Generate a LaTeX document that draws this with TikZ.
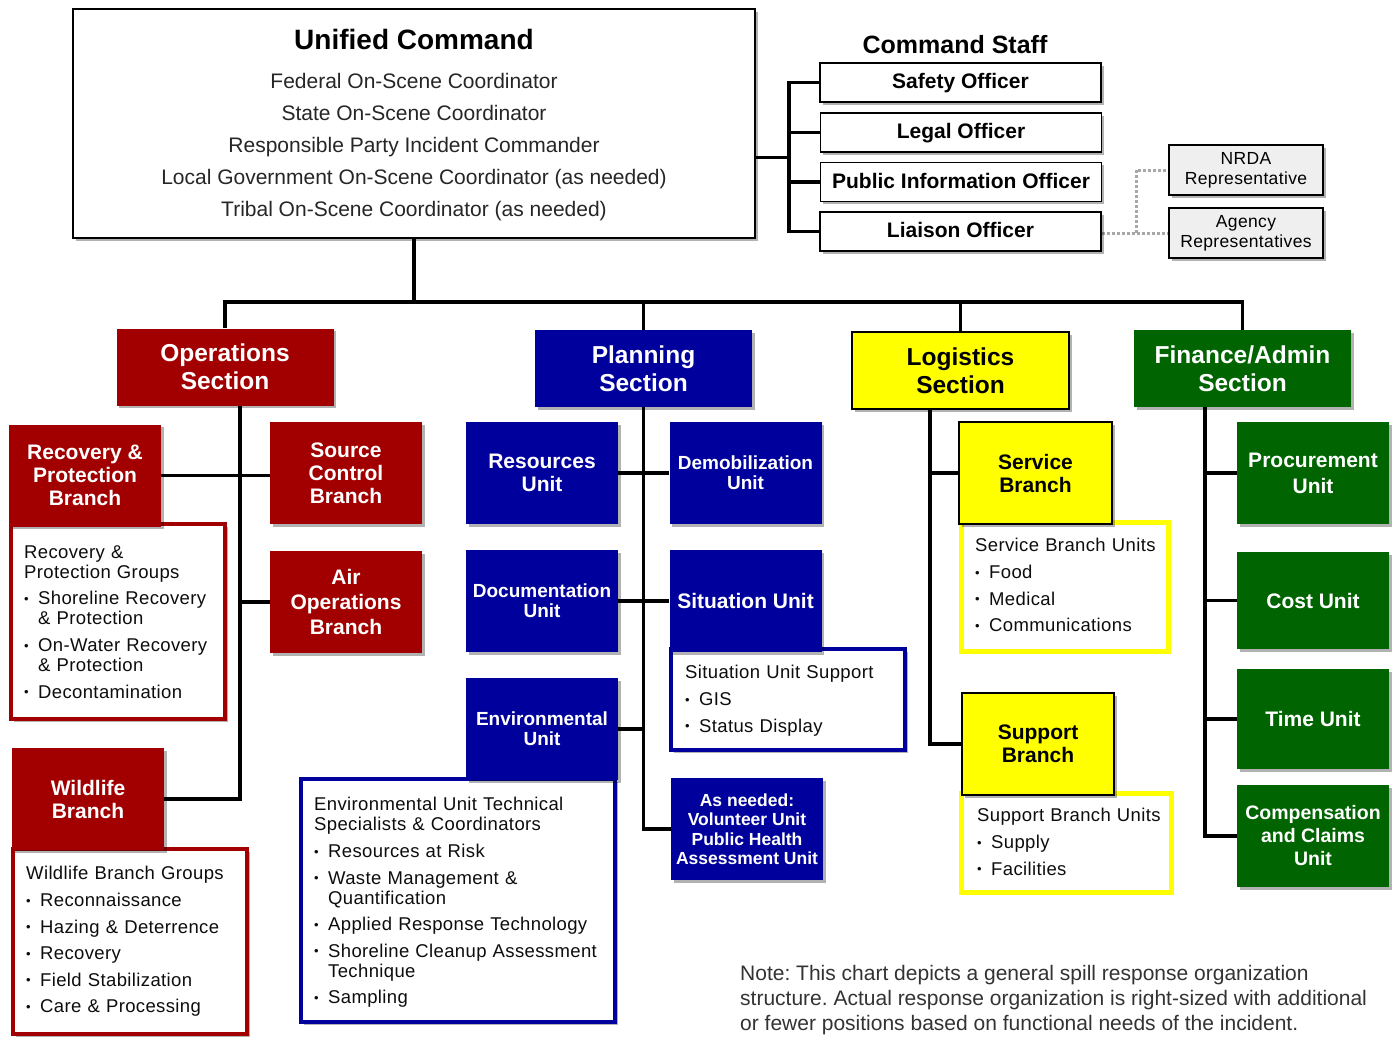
\documentclass[tikz,border=0pt]{standalone}
\usepackage{fontspec}
\setmainfont{Liberation Sans}
\newfontfamily\listfont[LetterSpace=2]{Liberation Sans}
\usetikzlibrary{shadows,backgrounds}
\definecolor{opsred}{HTML}{A20000}
\definecolor{planblue}{HTML}{00009C}
\definecolor{logyel}{HTML}{FFFF00}
\definecolor{fingreen}{HTML}{006400}
\definecolor{repgray}{HTML}{EFEFEF}
\definecolor{notegray}{HTML}{333333}
\definecolor{dotgray}{HTML}{A8A8A8}
\frenchspacing
\newcommand\bul[1]{\par\vspace{6.6pt}\noindent\hangindent=14pt\hangafter=1\hbox to 14pt{\raisebox{1.5pt}{\fontsize{13}{13}\selectfont\textbullet}\hfil}#1}
\pgfdeclarelayer{bgzero}
\pgfsetlayers{bgzero,background,main}
\begin{document}
\begin{tikzpicture}[x=1pt,y=-1pt,
  shad/.style={drop shadow={shadow xshift=2.5pt,shadow yshift=-2.5pt,opacity=0.3,fill=black}},
  box/.style={rectangle, inner sep=0pt, align=center, shad},
  sect/.style={box, minimum width=217pt, minimum height=77pt, font=\fontsize{24.5}{28}\selectfont\bfseries, text=white},
  unit/.style={box, minimum width=152pt, minimum height=102pt, font=\fontsize{21}{23}\selectfont\bfseries, text=white},
  ylw/.style={fill=logyel, draw=black, line width=1.3pt, text=black},
  staff/.style={box, draw=black, line width=1.3pt, fill=white, minimum width=281pt, minimum height=39pt, text height=15.5pt, text depth=3.5pt, font=\fontsize{21}{23}\selectfont\bfseries},
  rep/.style={box, draw=black, line width=1.3pt, fill=repgray, minimum width=154pt, minimum height=50pt, font=\listfont\fontsize{17.5}{20}\selectfont},
  listbox/.style={rectangle, fill=white, line width=4pt, inner sep=0pt, shad},
  listtext/.style={anchor=north west, inner sep=0pt, align=left, font=\listfont\fontsize{18.5}{20}\selectfont, text=black!95},
  conn/.style={line width=3.5pt, black, line join=miter},
  dotconn/.style={line width=3pt, dotgray, dash pattern=on 3pt off 2pt}]
\useasboundingbox (0,0) rectangle (1400,1039);
\begin{pgfonlayer}{bgzero}
\fill[white] (0,0) rectangle (1400,1039);
\end{pgfonlayer}

% Unified command
\node[box, draw=black, line width=1.2pt, fill=white, minimum width=682pt, minimum height=229pt] (uc) at (414,123.5) {};
\node[anchor=north, inner sep=0pt, align=center, font=\fontsize{21}{32}\selectfont, text=black!85] (uct) at (414,29.5)
  {{\fontsize{28}{32}\selectfont\bfseries\color{black}Unified Command}\\[7pt]Federal On-Scene Coordinator\\State On-Scene Coordinator\\Responsible Party Incident Commander\\Local Government On-Scene Coordinator (as needed)\\Tribal On-Scene Coordinator (as needed)};

% Command staff
\node[inner sep=0pt, font=\fontsize{25}{25}\selectfont\bfseries] (cst) at (955,45) {Command Staff};
\node[staff] (so) at (960.5,82.5) {Safety Officer};
\node[staff] (leg) at (961,132.5) {Legal Officer};
\node[staff] (pio) at (961,182) {Public Information Officer};
\node[staff] (lo) at (960.5,231.5) {Liaison Officer};
\node[rep] (nrda) at (1246,170) {NRDA\\Representative};
\node[rep] (agr) at (1246,233) {Agency\\Representatives};

% list boxes
\node[listbox, draw=opsred, minimum width=214pt, minimum height=195pt] (rpg) at (118,621.5) {};
\node[listbox, draw=opsred, minimum width=234pt, minimum height=185pt] (wbg) at (130,941.5) {};
\node[listbox, draw=planblue, minimum width=234pt, minimum height=101pt] (sus) at (788,699.5) {};
\node[listbox, draw=planblue, minimum width=314pt, minimum height=243pt] (etl) at (458,900.5) {};
\node[listbox, draw=logyel, line width=5pt, minimum width=207pt, minimum height=129pt] (sbu) at (1065,587) {};
\node[listbox, draw=logyel, line width=5pt, minimum width=210pt, minimum height=99pt] (spu) at (1066.5,843) {};

\node[listtext, text width=200pt] (rpgt) at (24,545.3) {Recovery \&\\Protection Groups\bul{Shoreline Recovery\newline\& Protection}\bul{On-Water Recovery\newline\& Protection}\bul{Decontamination}};
\node[listtext, text width=220pt] (wbgt) at (26,866.3) {Wildlife Branch Groups\bul{Reconnaissance}\bul{Hazing \& Deterrence}\bul{Recovery}\bul{Field Stabilization}\bul{Care \& Processing}};
\node[listtext, text width=220pt] (sust) at (685,665.3) {Situation Unit Support\bul{GIS}\bul{Status Display}};
\node[listtext, text width=300pt] (etlt) at (314,797.3) {Environmental Unit Technical\\Specialists \& Coordinators\bul{Resources at Risk}\bul{Waste Management \&\newline Quantification}\bul{Applied Response Technology}\bul{Shoreline Cleanup Assessment\newline Technique}\bul{Sampling}};
\node[listtext, text width=195pt] (sbut) at (975,538.3) {Service Branch Units\bul{Food}\bul{Medical}\bul{Communications}};
\node[listtext, text width=195pt] (sput) at (977,808.3) {Support Branch Units\bul{Supply}\bul{Facilities}};

% sections
\node[sect, fill=opsred] (ops) at (225,367) {Operations\\Section};
\node[sect, fill=planblue] (plan) at (643.5,368.5) {Planning\\Section};
\node[sect, ylw] (log) at (960.5,370.5) {Logistics\\Section};
\node[sect, fill=fingreen] (fin) at (1242.5,368.5) {Finance/Admin\\Section};

% operations
\node[unit, fill=opsred] (rpb) at (85,475.5) {Recovery \&\\Protection\\Branch};
\node[unit, fill=opsred] (scb) at (346,473) {Source\\Control\\Branch};
\node[unit, fill=opsred, font=\fontsize{21}{25}\selectfont\bfseries] (aob) at (346,602) {Air\\Operations\\Branch};
\node[unit, fill=opsred] (wb) at (88,799) {Wildlife\\Branch};

% planning
\node[unit, fill=planblue] (ru) at (542,473) {Resources\\Unit};
\node[unit, fill=planblue, font=\fontsize{19}{20}\selectfont\bfseries] (du) at (745.5,473) {Demobilization\\Unit};
\node[unit, fill=planblue, font=\fontsize{19}{20}\selectfont\bfseries] (docu) at (542,601) {Documentation\\Unit};
\node[unit, fill=planblue] (situ) at (745.5,601) {Situation Unit};
\node[unit, fill=planblue, font=\fontsize{19}{20}\selectfont\bfseries] (envu) at (542,729) {Environmental\\Unit};
\node[unit, fill=planblue, font=\fontsize{17.5}{19.5}\selectfont\bfseries] (asn) at (747,829) {As needed:\\Volunteer Unit\\Public Health\\Assessment Unit};

% logistics
\node[unit, ylw, minimum width=153pt] (sb) at (1035.5,473) {Service\\Branch};
\node[unit, ylw] (spb) at (1038,744) {Support\\Branch};

% finance
\node[unit, fill=fingreen, font=\fontsize{21}{26}\selectfont\bfseries] (pu) at (1313,473) {Procurement\\Unit};
\node[unit, fill=fingreen, minimum height=97pt] (cu) at (1313,600.5) {Cost Unit};
\node[unit, fill=fingreen, minimum height=100pt] (tu) at (1313,719) {Time Unit};
\node[unit, fill=fingreen, font=\fontsize{19.5}{23}\selectfont\bfseries] (ccu) at (1313,836) {Compensation\\and Claims\\Unit};

% note
\node[anchor=north west, align=left, inner sep=0pt, font=\fontsize{21}{25}\selectfont, text=notegray] (note) at (740,965) {Note: This chart depicts a general spill response organization\\structure. Actual response organization is right-sized with additional\\or fewer positions based on functional needs of the incident.};

% connectors
\coordinate (csx) at (789,0);
\coordinate (csmid) at (789,157.5);
\coordinate (bus) at (0,302);
\coordinate (opsx) at (240,0);
\coordinate (logx) at (930,0);
\coordinate (finx) at (1205,0);
\coordinate (dotx) at (1136,0);
\begin{scope}[on background layer]
\draw[conn] (csmid -| uc.east) -- (csmid);
\draw[conn] (so.west) -| (lo.west -| csx) -- (lo.west);
\draw[conn] (leg.west) -- (leg.west -| csx);
\draw[conn] (pio.west) -- (pio.west -| csx);
\draw[dotconn] (agr.west -| lo.east) -- (agr.west);
\draw[dotconn] (agr.west -| dotx) |- (nrda.west);
\draw[conn] (uc.south) -- (uc.south |- bus);
\draw[conn] (ops.north) -- (ops.north |- bus) -- (fin.north |- bus) -- (fin.north);
\draw[conn] (plan.north) -- (plan.north |- bus);
\draw[conn] (log.north) -- (log.north |- bus);
\draw[conn] (ops.south -| opsx) |- (wb.east);
\draw[conn] (rpb.east) -- (rpb.east -| scb.west);
\draw[conn] (aob.west) -- (aob.west -| opsx);
\draw[conn] (plan.south) |- (asn.west);
\draw[conn] (ru.east) -- (du.west);
\draw[conn] (docu.east) -- (situ.west);
\draw[conn] (envu.east) -- (envu.east -| plan.south);
\draw[conn] (log.south -| logx) |- (spb.west);
\draw[conn] (sb.west) -- (sb.west -| logx);
\draw[conn] (fin.south -| finx) |- (ccu.west);
\draw[conn] (pu.west) -- (pu.west -| finx);
\draw[conn] (cu.west) -- (cu.west -| finx);
\draw[conn] (tu.west) -- (tu.west -| finx);
\end{scope}
\end{tikzpicture}
\end{document}
